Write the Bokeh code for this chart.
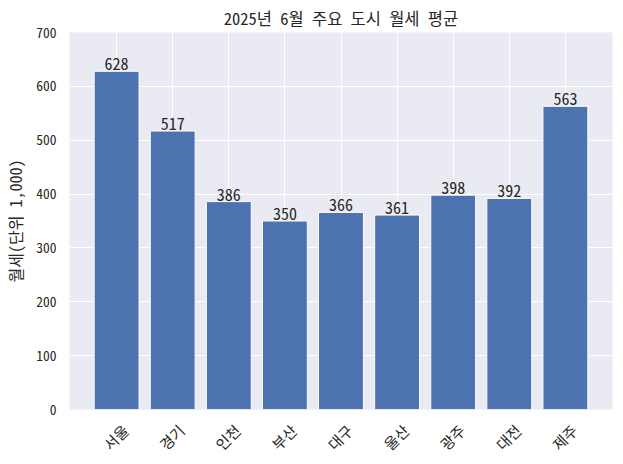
import math
from bokeh.plotting import figure
from bokeh.models import FixedTicker, ColumnDataSource, Range1d
from bokeh.core.properties import value
from bokeh.embed import file_html
from bokeh.resources import INLINE

cities = ["서울", "경기", "인천", "부산", "대구", "울산", "광주", "대전", "제주"]
rents = [628, 517, 386, 350, 366, 361, 398, 392, 563]
y_ticks = [0, 100, 200, 300, 400, 500, 600, 700]
title_text = "2025년 6월 주요 도시 월세 평균"
y_label = "월세(단위 1,000)"

FONT = "'Noto Sans Mono CJK KR', 'Noto Sans CJK KR'"
xs = list(range(len(cities)))
src = ColumnDataSource(dict(x=xs, top=rents, label=[str(v) for v in rents]))

p = figure(output_backend="svg", toolbar_location=None,
           frame_width=543, frame_height=377,
           x_range=Range1d(-0.84, len(cities) - 1 + 0.84),
           y_range=Range1d(0, 700),
           background_fill_color="#EAEAF2", border_fill_color="white",
           outline_line_color=None, min_border_left=0, min_border_right=3,
           min_border_top=0, min_border_bottom=0)

p.title.text = title_text
p.title.align = "center"
p.title.text_font = FONT
p.title.text_font_size = "16.5px"
p.title.text_font_style = "normal"
p.title.text_color = "#262626"
p.title.standoff = 6

p.vbar(x="x", top="top", width=0.8, source=src, fill_color="#4C72B0",
       line_color="white", line_width=1)
p.text(x="x", y="top", text="label", source=src, text_align="center",
       text_baseline="bottom", y_offset=-1, text_font=value(FONT),
       text_font_size="16px", text_color="#262626")

p.xgrid.ticker = FixedTicker(ticks=xs)
p.ygrid.ticker = FixedTicker(ticks=y_ticks)
p.grid.grid_line_color = "white"
p.grid.grid_line_width = 1

# rotated labels are right-anchored in Bokeh; shift anchor so each label is centred on its bar
label_pos = [i + 0.155 for i in xs]
p.xaxis.ticker = FixedTicker(ticks=label_pos)
p.xaxis.major_label_overrides = {pos: c for pos, c in zip(label_pos, cities)}
p.xaxis.major_label_orientation = math.pi / 4
p.yaxis.ticker = FixedTicker(ticks=y_ticks)
for ax in (p.xaxis, p.yaxis):
    ax.axis_line_color = None
    ax.major_tick_line_color = None
    ax.minor_tick_line_color = None
    ax.major_tick_out = 0
    ax.major_tick_in = 0
    ax.major_label_text_font = FONT
    ax.major_label_text_color = "#262626"
p.yaxis.major_label_text_font_size = "13.5px"
p.xaxis.major_label_text_font_size = "15px"
p.yaxis.major_label_standoff = 13
p.yaxis.axis_label = y_label
p.yaxis.axis_label_text_font = FONT
p.yaxis.axis_label_text_font_size = "16px"
p.yaxis.axis_label_text_font_style = "normal"
p.yaxis.axis_label_text_color = "#262626"
p.yaxis.axis_label_standoff = 6
p.xaxis.major_label_standoff = 18

open("out.html", "w").write(file_html(p, INLINE))
